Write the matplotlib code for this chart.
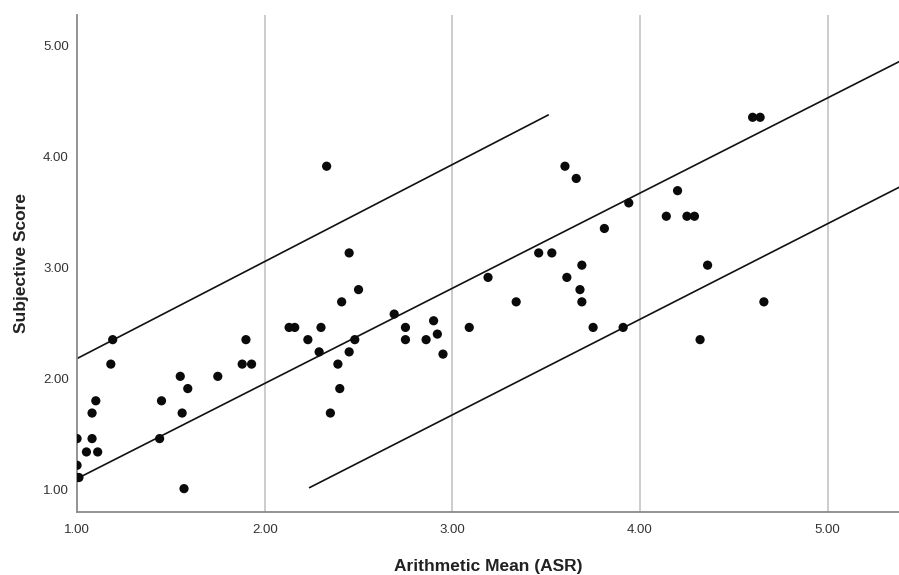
import numpy as np
import matplotlib.pyplot as plt

plt.rcParams['font.family'] = ['Liberation Sans', 'DejaVu Sans']

# scatter points: Arithmetic Mean (ASR) vs Subjective Score
asr = [1.00, 1.00, 1.00, 1.01, 1.05, 1.08, 1.08, 1.10, 1.11, 1.18, 1.19,
       1.44, 1.45, 1.55, 1.56, 1.59, 1.57, 1.75, 1.88, 1.90, 1.93,
       2.13, 2.16, 2.33, 2.45, 2.50, 2.41, 2.30, 2.23, 2.29, 2.48, 2.45,
       2.39, 2.40, 2.35, 2.69, 2.75, 2.75, 2.86, 2.90, 2.92, 2.95,
       3.09, 3.34, 3.19, 3.46, 3.53, 3.60, 3.66, 3.69, 3.61, 3.68, 3.69,
       3.75, 3.91, 3.94, 3.81, 4.14, 4.20, 4.25, 4.29, 4.36, 4.60, 4.64,
       4.32, 4.66]
score = [1.46, 1.22, 1.11, 1.11, 1.34, 1.46, 1.69, 1.80, 1.34, 2.13, 2.35,
         1.46, 1.80, 2.02, 1.69, 1.91, 1.01, 2.02, 2.13, 2.35, 2.13,
         2.46, 2.46, 3.91, 3.13, 2.80, 2.69, 2.46, 2.35, 2.24, 2.35, 2.24,
         2.13, 1.91, 1.69, 2.58, 2.46, 2.35, 2.35, 2.52, 2.40, 2.22,
         2.46, 2.69, 2.91, 3.13, 3.13, 3.91, 3.80, 3.02, 2.91, 2.80, 2.69,
         2.46, 2.46, 3.58, 3.35, 3.46, 3.69, 3.46, 3.46, 3.02, 4.35, 4.35,
         2.35, 2.69]

# fit line and interval lines (start x, end x, start y, end y)
fit_x = [1.00, 5.38]
fit_y = [1.10, 4.85]
upper_x = [1.00, 3.51]
upper_y = [2.18, 4.37]
lower_x = [2.24, 5.38]
lower_y = [1.02, 3.72]

fig = plt.figure(figsize=(8.99, 5.75), dpi=100)
ax = fig.add_axes([0.0857, 0.1096, 0.9143, 0.8643])

for gx in [2, 3, 4, 5]:
    ax.axvline(gx, color='#c4c4c4', linewidth=1.2, zorder=0)

ax.plot(fit_x, fit_y, color='#111111', linewidth=1.2, zorder=2)
ax.plot(upper_x, upper_y, color='#111111', linewidth=1.2, zorder=2)
ax.plot(lower_x, lower_y, color='#111111', linewidth=1.2, zorder=2)
ax.scatter(asr, score, s=44, color='#0a0a0a', edgecolors='none', zorder=3)

ax.set_xlim(1.0, 5.38)
ax.set_ylim(0.80, 5.27)
ax.set_xticks([1, 2, 3, 4, 5])
ax.set_yticks([1, 2, 3, 4, 5])
ax.set_xticklabels(['1.00', '2.00', '3.00', '4.00', '5.00'])
ax.set_yticklabels(['1.00', '2.00', '3.00', '4.00', '5.00'])
ax.tick_params(length=0, labelsize=9.5, labelcolor='#333333')
ax.tick_params(axis='y', pad=6)
ax.tick_params(axis='x', pad=9)

for side in ['top', 'right']:
    ax.spines[side].set_visible(False)
for side in ['left', 'bottom']:
    ax.spines[side].set_color('#8a8a8a')
    ax.spines[side].set_linewidth(1.3)

ax.set_xlabel('Arithmetic Mean (ASR)', fontsize=12.5, fontweight='bold',
              color='#222222', labelpad=16)
ax.set_ylabel('Subjective Score', fontsize=12.5, fontweight='bold',
              color='#222222', labelpad=10)

fig.savefig('out.png', dpi=100)
